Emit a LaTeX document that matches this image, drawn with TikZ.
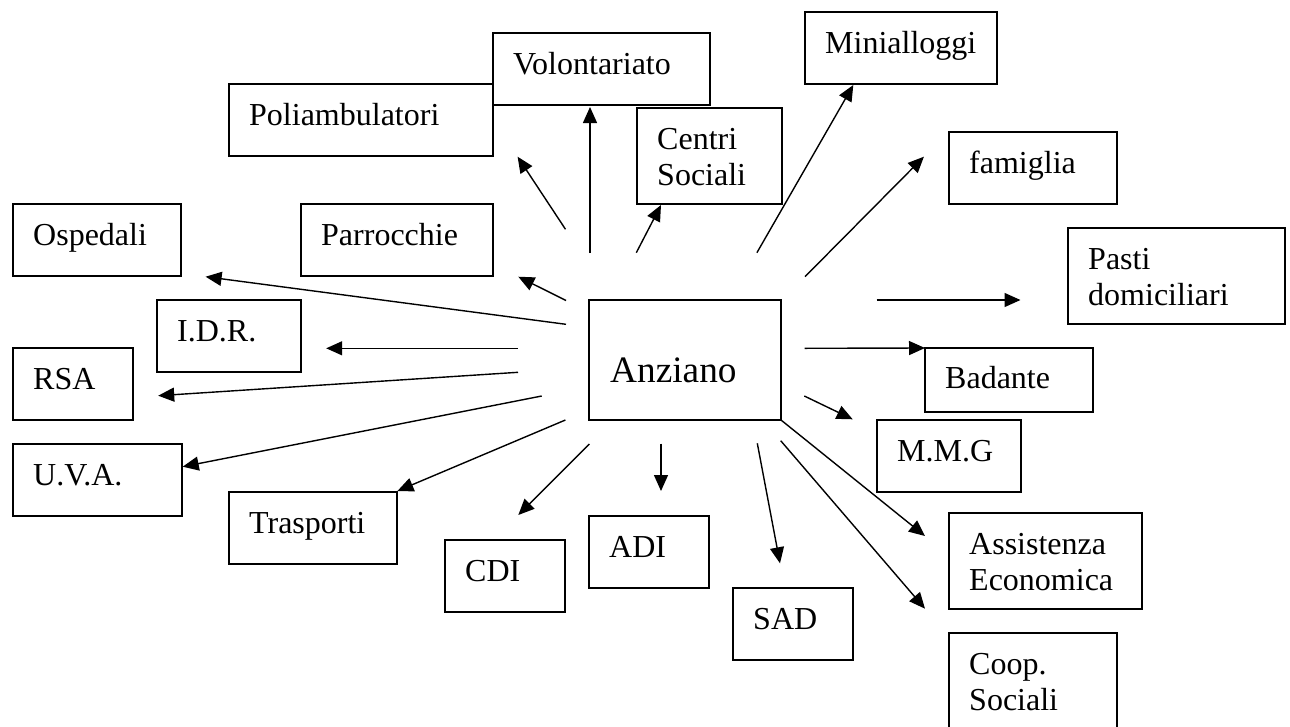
\documentclass[tikz,border=0pt]{standalone}
\usepackage{fontspec}
\setmainfont{Liberation Serif}
\usetikzlibrary{arrows.meta, calc}

\tikzset{
	box/.style = {draw, line width=1.5pt, anchor=north west, inner sep=0pt, outer sep=0pt},
	lbl/.style = {anchor=base west, inner sep=0pt, align=left, font=\fontsize{32}{36.8}\selectfont},
	arr/.style = {line width=1.4pt, -{Triangle[length=16pt, width=14pt]}}
}

\begin{document}
\begin{tikzpicture}[x=1pt, y=-1pt]
	\useasboundingbox (0,0) rectangle (1290,726);
	
	% centre
	\node[box, minimum width=192pt, minimum height=120pt] (anz) at (589,300) {};
	\node[lbl, font=\fontsize{37.3}{42.9}\selectfont] (anz-t) at ($(anz.north west)+(21,82)$) {Anziano};
	
	% services (\b = baseline of the last line below the top edge)
	\foreach \nm/\x/\y/\w/\h/\b/\txt in {
		vol/493/33/217/72/41/{Volontariato},
		pol/229/84/264/72/41/{Poliambulatori},
		mini/805/12/192/72/41/{Minialloggi},
		cent/637/108/145/96/77.8/{Centri\\Sociali},
		fam/949/132/168/72/41/{famiglia},
		osp/13/204/168/72/41/{Ospedali},
		parr/301/204/192/72/41/{Parrocchie},
		pasti/1068/228/217/96/77.8/{Pasti\\domiciliari},
		idr/157/300/144/72/41/{I.D.R.},
		rsa/13/348/120/72/41/{RSA},
		bad/925/348/168/64/40/{Badante},
		mmg/877/420/144/72/41/{M.M.G},
		uva/13/444/169/72/41/{U.V.A.},
		tra/229/492/168/72/41/{Trasporti},
		adi/589/516/120/72/41/{ADI},
		cdi/445/540/120/72/41/{CDI},
		ass/949/513/193/96/77.8/{Assistenza\\Economica},
		sad/733/588/120/72/41/{SAD},
		coop/949/633/168/96/77.8/{Coop.\\Sociali}}
	{
		\node[box, minimum width=\w pt, minimum height=\h pt] (\nm) at (\x,\y) {};
		\node[lbl] (\nm-t) at ($(\nm.north west)+(20,\b)$) {\txt};
	}
	
	% arrows out of the centre
	\foreach \nm/\sx/\sy/\tx/\ty in {
		vol/590/253/590/107,
		pol/565.5/229.3/517.6/156.7,
		cent/636.3/252.7/661/205,
		mini/756.9/252.7/853.3/85,
		fam/805/276.7/923.9/156.7,
		pasti/876.7/300/1020.5/300,
		mmg/804.3/396/852.7/419.3,
		coop/780.7/440.7/925/608.7,
		sad/757.3/443.3/780/563.3,
		adi/661/443.5/661/491,
		cdi/589.3/444/518.3/515,
		tra/565.4/420/397.4/491,
		uva/541.7/396/182.7/466.7,
		rsa/518/372.3/158.2/395.7,
		idr/517.5/348.3/326.2/348.3,
		osp/566/324.3/205.6/276.7,
		parr/566/300.5/518.3/276.7}
	{
		\coordinate (\nm-s) at (\sx,\sy);
		\coordinate (\nm-e) at (\tx,\ty);
		\draw[arr] (\nm-s) -- (\nm-e);
	}
	
	\coordinate (bad-s) at (804.6,348.3);
	\coordinate (ass-e) at (925,536);
	\draw[arr] (bad-s) -- (bad.north west);
	\draw[arr] (anz.south east) -- (ass-e);
\end{tikzpicture}
\end{document}
